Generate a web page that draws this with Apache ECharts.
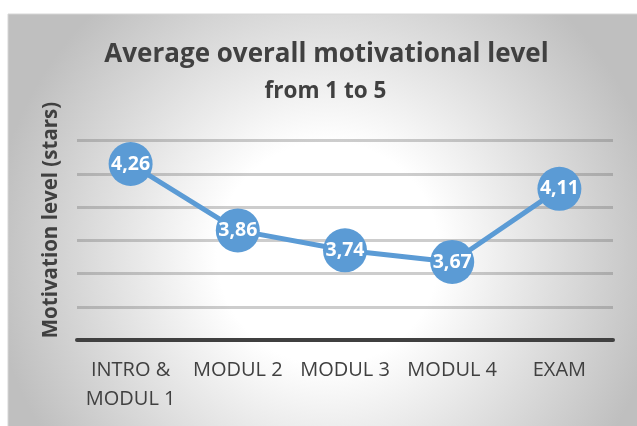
<!DOCTYPE html>
<html>
<head>
<meta charset="utf-8">
<script src="https://cdn.jsdelivr.net/npm/echarts@6/dist/echarts.min.js"></script>
<style>
  html, body { margin: 0; padding: 0; background: #fff; }
  #chart { width: 637px; height: 426px; }
</style>
</head>
<body>
<div id="chart"></div>
<script>
// chart data
const categories = ["INTRO &\nMODUL 1", "MODUL 2", "MODUL 3", "MODUL 4", "EXAM"];
const motivation = [4.26, 3.86, 3.74, 3.67, 4.11];
const yMin = 3.2;
const yMax = 4.4;
const yStep = 0.2;

const titleText = "Average overall motivational level";
const subtitleText = "from 1 to 5";
const yAxisTitle = "Motivation level (stars)";

const font = '"Open Sans", "Noto Sans", sans-serif';
const textColor = "#404040";

const chart = echarts.init(document.getElementById("chart"));

const option = {
  backgroundColor: "#ffffff",
  animation: false,
  grid: { left: 77, right: 24, top: 140.7, bottom: 86 },
  graphic: [
    {
      // chart area with radial fill
      type: "rect",
      z: -1,
      shape: { x: 8, y: 14, width: 640, height: 420 },
      style: {
        fill: new echarts.graphic.RadialGradient(0.5, 0.57, 0.8, [
          { offset: 0, color: "#ffffff" },
          { offset: 0.33, color: "#ffffff" },
          { offset: 1, color: "#bfbfbf" },
        ]),
        stroke: "#d6d6d6",
        lineWidth: 1,
      },
    },
    {
      type: "text",
      x: 326.5,
      y: 54.5,
      style: {
        text: titleText,
        align: "center",
        verticalAlign: "middle",
        fill: textColor,
        font: "bold 26px " + font,
      },
    },
    {
      type: "text",
      x: 325.5,
      y: 91.5,
      style: {
        text: subtitleText,
        align: "center",
        verticalAlign: "middle",
        fill: textColor,
        font: "bold 22.5px " + font,
      },
    },
    {
      type: "text",
      x: 51,
      y: 220,
      rotation: Math.PI / 2,
      style: {
        text: yAxisTitle,
        align: "center",
        verticalAlign: "middle",
        fill: textColor,
        font: "bold 20.5px " + font,
      },
    },
  ],
  xAxis: {
    type: "category",
    data: categories,
    boundaryGap: true,
    axisTick: { show: false },
    axisLine: { lineStyle: { color: textColor, width: 4 } },
    axisLabel: {
      interval: 0,
      margin: 16,
      color: textColor,
      fontFamily: font,
      fontSize: 20,
      lineHeight: 29,
    },
    z: 3,
  },
  yAxis: {
    type: "value",
    min: yMin,
    max: yMax,
    interval: yStep,
    axisLabel: { show: false },
    axisLine: { show: false },
    axisTick: { show: false },
    splitLine: { lineStyle: { color: "rgba(100,100,100,0.32)", width: 3 } },
  },
  series: [
    {
      type: "line",
      data: motivation,
      symbol: "circle",
      symbolSize: 44,
      lineStyle: { color: "#5b9bd5", width: 5 },
      itemStyle: { color: "#5b9bd5" },
      label: {
        show: true,
        position: "inside",
        color: "#ffffff",
        fontFamily: font,
        fontWeight: "bold",
        fontSize: 19.5,
        formatter: (p) => p.value.toFixed(2).replace(".", ","),
      },
      z: 4,
    },
  ],
};

chart.setOption(option);
</script>
</body>
</html>
